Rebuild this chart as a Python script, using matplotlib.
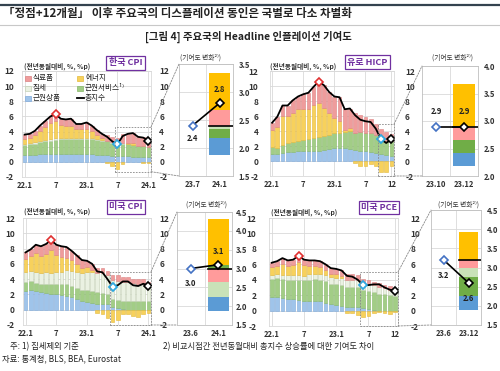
import matplotlib
matplotlib.use('Agg')
import matplotlib.pyplot as plt
from matplotlib.patches import Rectangle, ConnectionPatch
from matplotlib.lines import Line2D
import numpy as np

plt.rcParams['font.family'] = ['Noto Sans CJK KR', 'DejaVu Sans']

# ---------------- data ----------------
kr_headline = [3.6, 3.7, 4.1, 4.8, 5.4, 6.0, 6.3, 5.7, 5.6, 5.7, 5.0, 5.0, 5.2, 4.8, 4.2, 3.7, 3.3, 2.7, 2.3, 3.4, 3.7, 3.8, 3.3, 3.2, 2.8]
kr_goods = [0.9, 0.9, 0.9, 1.0, 1.0, 1.0, 1.0, 1.0, 1.0, 1.0, 1.0, 1.0, 1.0, 1.0, 0.9, 0.9, 0.9, 0.8, 0.8, 0.8, 0.8, 0.7, 0.7, 0.7, 0.6]
kr_services = [1.3, 1.4, 1.5, 1.6, 1.7, 1.8, 1.9, 2.0, 2.0, 2.0, 2.0, 2.0, 2.0, 2.0, 2.0, 1.9, 1.8, 1.7, 1.6, 1.6, 1.5, 1.5, 1.4, 1.4, 1.3]
kr_rent = [0.2, 0.2, 0.2, 0.2, 0.2, 0.2, 0.2, 0.2, 0.2, 0.2, 0.2, 0.2, 0.1, 0.1, 0.1, 0.1, 0.1, 0.1, 0.1, 0.1, 0.1, 0.0, 0.0, 0.0, 0.0]
kr_energy = [0.6, 0.6, 0.9, 1.3, 1.7, 2.1, 2.3, 1.7, 1.6, 1.6, 1.1, 1.1, 1.3, 1.0, 0.5, 0.2, -0.2, -0.6, -0.9, -0.3, 0.1, 0.3, 0.0, -0.1, -0.2]
kr_food = [0.6, 0.6, 0.6, 0.7, 0.8, 0.9, 0.9, 0.8, 0.8, 0.9, 0.7, 0.7, 0.8, 0.7, 0.7, 0.6, 0.7, 0.7, 0.7, 1.2, 1.2, 1.3, 1.2, 1.2, 1.1]

eu_headline = [5.1, 5.9, 7.4, 7.4, 8.1, 8.6, 8.9, 9.1, 9.9, 10.6, 10.1, 9.2, 8.6, 8.5, 6.9, 7.0, 6.1, 5.5, 5.3, 5.2, 4.3, 2.9, 2.4, 2.9]
eu_goods = [1.0, 1.0, 1.1, 1.2, 1.2, 1.3, 1.3, 1.3, 1.4, 1.4, 1.5, 1.6, 1.7, 1.7, 1.7, 1.6, 1.5, 1.4, 1.3, 1.2, 1.1, 0.95, 0.8, 0.7]
eu_services = [0.9, 0.8, 1.0, 1.2, 1.3, 1.4, 1.5, 1.6, 1.7, 1.8, 1.8, 1.9, 2.0, 2.1, 2.2, 2.4, 2.3, 2.5, 2.5, 2.5, 2.4, 2.2, 1.9, 2.0]
eu_rent = [0.0] * 24
eu_energy = [2.3, 2.8, 3.9, 3.6, 3.9, 4.2, 4.2, 4.1, 4.4, 4.6, 3.8, 2.9, 2.1, 1.6, 0.2, 0.4, -0.3, -0.6, -0.6, -0.4, -0.6, -1.4, -1.5, -0.6]
eu_food = [0.9, 1.3, 1.4, 1.4, 1.7, 1.7, 1.9, 2.1, 2.4, 2.8, 3.0, 2.8, 2.8, 3.1, 2.8, 2.6, 2.6, 2.2, 2.1, 1.9, 1.4, 1.15, 1.2, 0.9]

us_headline = [7.5, 7.9, 8.5, 8.3, 8.6, 9.1, 8.5, 8.3, 8.2, 7.7, 7.1, 6.5, 6.4, 6.0, 5.0, 4.9, 4.0, 3.0, 3.2, 3.7, 3.7, 3.2, 3.1, 3.4, 3.1]
us_goods = [2.5, 2.6, 2.4, 2.3, 2.2, 2.1, 2.0, 1.9, 1.8, 1.6, 1.4, 1.1, 1.0, 0.9, 0.8, 0.8, 0.7, 0.3, 0.2, 0.1, 0.0, 0.0, -0.1, -0.1, -0.1]
us_services = [1.1, 1.1, 1.1, 1.1, 1.2, 1.2, 1.3, 1.4, 1.5, 1.5, 1.5, 1.5, 1.6, 1.6, 1.5, 1.4, 1.3, 1.1, 1.1, 1.1, 1.2, 1.2, 1.1, 1.2, 1.2]
us_rent = [1.35, 1.4, 1.4, 1.45, 1.5, 1.5, 1.6, 1.7, 1.9, 2.0, 2.1, 2.2, 2.3, 2.4, 2.5, 2.6, 2.6, 2.5, 2.5, 2.4, 2.4, 2.3, 2.2, 2.2, 2.1]
us_energy = [1.7, 1.9, 2.5, 2.2, 2.4, 3.0, 2.3, 1.9, 1.6, 1.4, 1.0, 0.6, 0.7, 0.3, -0.4, -0.5, -1.1, -1.6, -1.4, -0.6, -0.6, -0.8, -0.8, -0.5, -0.35]
us_food = [0.85, 0.9, 1.1, 1.25, 1.3, 1.3, 1.3, 1.4, 1.4, 1.2, 1.1, 1.1, 0.8, 0.8, 0.6, 0.6, 0.5, 0.7, 0.8, 0.7, 0.7, 0.5, 0.7, 0.6, 0.3]

pce_headline = [6.2, 6.4, 6.8, 6.5, 6.6, 7.1, 6.6, 6.5, 6.5, 6.4, 6.0, 5.5, 5.4, 5.2, 4.5, 4.4, 4.0, 3.3, 3.3, 3.4, 3.4, 3.0, 2.7, 2.6]
pce_goods = [1.7, 1.7, 1.6, 1.5, 1.5, 1.4, 1.3, 1.3, 1.3, 1.2, 1.0, 0.8, 0.7, 0.6, 0.5, 0.5, 0.5, 0.3, 0.2, 0.1, 0.0, 0.0, -0.1, -0.1]
pce_services = [2.4, 2.5, 2.5, 2.5, 2.5, 2.6, 2.6, 2.7, 2.8, 2.8, 2.8, 2.7, 2.7, 2.7, 2.6, 2.5, 2.5, 2.4, 2.3, 2.3, 2.2, 2.1, 2.0, 1.9]
pce_rent = [0.5, 0.5, 0.5, 0.6, 0.6, 0.6, 0.6, 0.7, 0.7, 0.7, 0.8, 0.8, 0.8, 0.9, 0.9, 0.9, 0.9, 0.9, 0.9, 0.9, 0.8, 0.8, 0.7, 0.7]
pce_energy = [1.0, 1.1, 1.5, 1.2, 1.3, 1.7, 1.4, 1.1, 1.0, 1.0, 0.7, 0.4, 0.5, 0.3, -0.3, -0.3, -0.6, -0.8, -0.7, -0.3, -0.2, -0.3, -0.4, -0.1]
pce_food = [0.6, 0.6, 0.7, 0.7, 0.7, 0.8, 0.7, 0.7, 0.7, 0.7, 0.7, 0.8, 0.7, 0.7, 0.8, 0.8, 0.7, 0.5, 0.6, 0.4, 0.6, 0.4, 0.5, 0.2]

ticks_25 = ['22.1', '7', '23.1', '7', '24.1']
ticks_24 = ['22.1', '7', '23.1', '7', '12']

# inset: changes in contribution (food, rent, services, goods, energy)
kr_inset_x = ['23.7', '24.1']
kr_inset_start, kr_inset_end = 2.4, 2.8
kr_inset_chg = [0.28, -0.06, -0.17, -0.30, 0.66]
eu_inset_x = ['23.10', '23.12']
eu_inset_start, eu_inset_end = 2.9, 2.9
eu_inset_chg = [-0.25, 0.0, -0.23, -0.24, 0.77]
us_inset_x = ['23.6', '24.1']
us_inset_start, us_inset_end = 3.0, 3.1
us_inset_chg = [-0.37, -0.38, 0.08, -0.39, 1.24]
pce_inset_x = ['23.6', '23.12']
pce_inset_start, pce_inset_end = 3.2, 2.6
pce_inset_chg = [-0.22, -0.24, -0.49, -0.36, 0.72]

# ---------------- style ----------------
W, H = 500, 371
fig = plt.figure(figsize=(5, 3.71), dpi=100)

def rect(l, t, r, b):
    return [l / W, 1 - b / H, (r - l) / W, (b - t) / H]

def fx(x):
    return x / W

def fy(y):
    return 1 - y / H

GRID = '#D9D9D9'
TXT = '#333333'
PURPLE = '#7030A0'
main_fc = {'goods': '#9FC4EA', 'services': '#A2CD86', 'rent': '#EAF1E2', 'energy': '#F7D15C', 'food': '#EF9C9C'}
main_ec = {'goods': '#80AADA', 'services': '#86B868', 'rent': '#C4D1B6', 'energy': '#E4B93A', 'food': '#DC8282'}
ins_c = {'food': '#FF9B9B', 'rent': '#C9E2B8', 'services': '#70AD47', 'goods': '#5B9BD5', 'energy': '#FFC000'}


def main_panel(rp, headline, goods, services, rent, energy, food, ticklabels,
               peak_i, mid_i, box, lpad):
    ax = fig.add_axes(rect(*rp))
    n = len(headline)
    x = np.arange(n)
    pb = np.zeros(n)
    nb = np.zeros(n)
    for key, vals in [('goods', goods), ('services', services), ('rent', rent),
                      ('energy', energy), ('food', food)]:
        v = np.array(vals, dtype=float)
        for i in range(n):
            if v[i] > 0:
                ax.bar(x[i], v[i], 0.72, bottom=pb[i], color=main_fc[key],
                       edgecolor=main_ec[key], linewidth=0.4, zorder=2)
                pb[i] += v[i]
            elif v[i] < 0:
                ax.bar(x[i], v[i], 0.72, bottom=nb[i], color=main_fc[key],
                       edgecolor=main_ec[key], linewidth=0.4, zorder=2)
                nb[i] += v[i]
    ax.plot(x, headline, color='black', lw=1.3, zorder=4)
    ax.plot(peak_i, headline[peak_i], marker='D', ms=4.5, mfc='white', mec='#E03030', mew=1.2, zorder=5)
    ax.plot(mid_i, headline[mid_i], marker='D', ms=4.5, mfc='white', mec='#2FA8E0', mew=1.3, zorder=5)
    ax.plot(n - 1, headline[-1], marker='D', ms=4.5, mfc='white', mec='black', mew=1.2, zorder=5)
    ax.set_xlim(-0.5, n - 0.5)
    ax.set_ylim(-2, 12)
    ax.set_yticks(range(-2, 13, 2))
    ax.set_yticklabels([str(v) for v in range(-2, 13, 2)])
    ax.set_xticks([0, 6, 12, 18, n - 1])
    ax.set_xticklabels(ticklabels)
    ax.tick_params(axis='y', length=0, pad=lpad, labelsize=6, labelcolor=TXT,
                   labelleft=True, labelright=True)
    ax.tick_params(axis='x', length=0, pad=3, labelsize=5.5, labelcolor=TXT)
    for lab in ax.get_yticklabels() + ax.get_xticklabels():
        lab.set_fontweight('bold')
    ax.grid(True, color=GRID, lw=0.6, zorder=0)
    ax.set_axisbelow(True)
    for s in ax.spines.values():
        s.set_color(GRID)
        s.set_linewidth(0.6)
    # dashed zoom box
    x0, y0, y1 = box
    ax.add_patch(Rectangle((x0, y0), n - 0.5 - x0, y1 - y0, fill=False,
                           ls=(0, (2, 1.5)), lw=0.6, ec='#888888', zorder=6, clip_on=False))
    return ax, (n - 0.5, y0, y1)


def inset_panel(rp, ylim, yticks, xlabels, start, end, chg, lab_s, lab_e, main_ax, corner, rpad):
    ax = fig.add_axes(rect(*rp))
    keys = ['food', 'rent', 'services', 'goods', 'energy']
    up = start
    dn = start
    bw = 0.78
    for k, v in zip(keys, chg):
        if v > 0:
            ax.bar(1, v, bw, bottom=up, color=ins_c[k], zorder=2)
            up += v
        elif v < 0:
            ax.bar(1, v, bw, bottom=dn, color=ins_c[k], zorder=2)
            dn += v
    ax.plot([1 - bw / 2, 1.5], [start, start], color='black', lw=1.2, zorder=4)
    ax.plot([0, 1], [start, end], color='black', lw=1.2, zorder=4)
    ax.plot(0, start, marker='D', ms=4.5, mfc='white', mec='#4472C4', mew=1.2, zorder=5)
    ax.plot(1, end, marker='D', ms=4.5, mfc='white', mec='black', mew=1.2, zorder=5)
    ax.text(0, lab_s, f'{start:.1f}', ha='center', va='center', fontsize=5.5,
            fontweight='bold', color='#222222', zorder=6)
    ax.text(1, lab_e, f'{end:.1f}', ha='center', va='center', fontsize=5.5,
            fontweight='bold', color='#222222', zorder=6)
    ax.set_xlim(-0.5, 1.5)
    ax.set_ylim(*ylim)
    ax.set_yticks(yticks)
    ax.set_yticklabels([f'{v:.1f}' for v in yticks])
    ax.yaxis.tick_right()
    ax.set_xticks([0, 1])
    ax.set_xticklabels(xlabels)
    ax.tick_params(axis='y', length=0, pad=rpad, labelsize=5.5, labelcolor=TXT)
    ax.tick_params(axis='x', length=0, pad=3, labelsize=5.5, labelcolor=TXT)
    for lab in ax.get_yticklabels() + ax.get_xticklabels():
        lab.set_fontweight('bold')
    ax.grid(True, axis='y', color=GRID, lw=0.6, zorder=0)
    ax.axvline(0.5, color=GRID, lw=0.6, zorder=0)
    ax.set_axisbelow(True)
    for s in ax.spines.values():
        s.set_color('#BFBFBF')
        s.set_linewidth(0.6)
    xr, y0, y1 = corner
    for (ya, yb) in [(y1, 1.0), (y0, 0.0)]:
        con = ConnectionPatch(xyA=(xr, ya), coordsA='data', axesA=main_ax,
                              xyB=(0, yb), coordsB='axes fraction', axesB=ax,
                              ls=(0, (2, 1.5)), lw=0.6, color='#888888')
        fig.add_artist(con)
    return ax


ax1, c1 = main_panel((22, 71, 151, 177), kr_headline, kr_goods, kr_services, kr_rent,
                     kr_energy, kr_food, ticks_25, 6, 18, (17.5, -1.3, 4.6), 6)
inset_panel((179, 64, 233, 176), (1.5, 3.5), [1.5, 2.0, 2.5, 3.0, 3.5], kr_inset_x,
            kr_inset_start, kr_inset_end, kr_inset_chg, 2.17, 3.05, ax1, c1, 4)

ax2, c2 = main_panel((269.5, 71, 394, 176), eu_headline, eu_goods, eu_services, eu_rent,
                     eu_energy, eu_food, ticks_24, 9, 21, (20.5, -2, 4.9), 8)
inset_panel((422, 66, 478, 176), (2.0, 4.0), [2.0, 2.5, 3.0, 3.5, 4.0], eu_inset_x,
            eu_inset_start, eu_inset_end, eu_inset_chg, 3.17, 3.17, ax2, c2, 4)

ax3, c3 = main_panel((23, 218, 151, 325), us_headline, us_goods, us_services, us_rent,
                     us_energy, us_food, ticks_25, 5, 17, (16.5, -2, 4.95), 6)
inset_panel((177, 212, 232, 325), (1.5, 4.5), [1.5, 2.0, 2.5, 3.0, 3.5, 4.0, 4.5], us_inset_x,
            us_inset_start, us_inset_end, us_inset_chg, 2.6, 3.46, ax3, c3, 2.5)

ax4, c4 = main_panel((269, 218, 398, 326), pce_headline, pce_goods, pce_services, pce_rent,
                     pce_energy, pce_food, ticks_24, 5, 17, (16.5, -2, 5.0), 9)
inset_panel((431, 210, 481, 325), (1.5, 4.5), [1.5, 2.0, 2.5, 3.0, 3.5, 4.0, 4.5], pce_inset_x,
            pce_inset_start, pce_inset_end, pce_inset_chg, 2.8, 2.2, ax4, c4, 4)

# ---------------- texts ----------------
fig.add_artist(Line2D([0, 1], [fy(5), fy(5)], color='#34424F', lw=1.6))
fig.add_artist(Line2D([0, 1], [fy(25), fy(25)], color='#C8C8C8', lw=0.8))
fig.text(fx(3), fy(14), '「정점+12개월」 이후 주요국의 디스플레이션 동인은 국별로 다소 차별화',
         ha='left', va='center', fontsize=8.3, fontweight='bold', color='#222222')
fig.text(fx(248), fy(37), '[그림 4] 주요국의 Headline 인플레이션 기여도',
         ha='center', va='center', fontsize=7.5, fontweight='bold', color='#222222')

for (cx, cy, s) in [(125.5, 63, '한국 CPI'), (367.5, 62, '유로 HICP'),
                    (126, 207, '미국 CPI'), (379, 207.5, '미국 PCE')]:
    fig.text(fx(cx), fy(cy), s, ha='center', va='center', fontsize=6.5, fontweight='bold',
             color=PURPLE, bbox=dict(boxstyle='square,pad=0.25', fc='white', ec=PURPLE, lw=0.9))

for (lx, ly) in [(24, 66), (270, 66), (24, 211), (271, 212)]:
    fig.text(fx(lx), fy(ly), '(전년동월대비, %, %p)', ha='left', va='center',
             fontsize=4.8, fontweight='bold', color='#333333')

for (cx, cy) in [(200, 58), (452, 58), (206, 205), (458, 205)]:
    fig.text(fx(cx), fy(cy), '(기여도 변화²⁾)', ha='center', va='center',
             fontsize=4.8, color='#333333')

# legend (Korea panel)
leg_items = [('식료품', 'food', 28, 78), ('에너지', 'energy', 80, 78),
             ('집세', 'rent', 28, 88), ('근원서비스¹⁾', 'services', 80, 88),
             ('근원상품', 'goods', 28, 98)]
for lab, key, lx, ly in leg_items:
    fig.add_artist(Rectangle((fx(lx - 3), fy(ly + 2.5)), 6 / W, 5 / H, transform=fig.transFigure,
                             fc=main_fc[key], ec=main_ec[key], lw=0.5))
    fig.text(fx(lx + 5), fy(ly), lab, ha='left', va='center', fontsize=5.5, color='#222222')
fig.add_artist(Line2D([fx(77), fx(84)], [fy(98), fy(98)], color='black', lw=1.3))
fig.text(fx(85), fy(98), '총지수', ha='left', va='center', fontsize=5.5, color='#222222')

fig.text(fx(10), fy(347), '주: 1) 집세제외 기준', ha='left', va='center', fontsize=6, color='#222222')
fig.text(fx(163), fy(347), '2) 비교시점간 전년동월대비 총지수 상승률에 대한 기여도 차이',
         ha='left', va='center', fontsize=6, color='#222222')
fig.text(fx(2), fy(359), '자료: 통계청, BLS, BEA, Eurostat', ha='left', va='center',
         fontsize=6, color='#222222')

fig.savefig('out.png', dpi=100)
